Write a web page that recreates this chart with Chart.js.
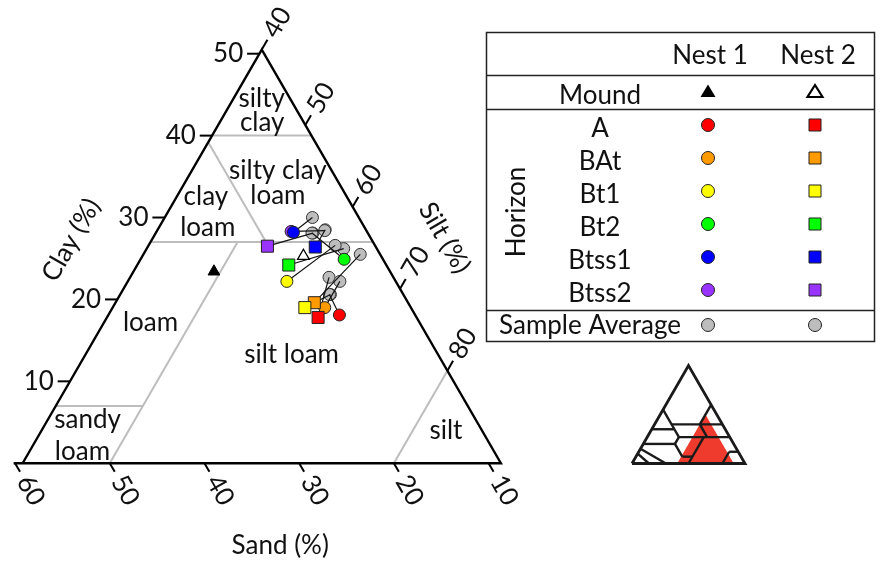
<!DOCTYPE html>
<html>
<head>
<meta charset="utf-8">
<title>Soil texture of mound and horizon samples</title>
<script src="https://cdn.jsdelivr.net/npm/chart.js@4.4.1/dist/chart.umd.min.js"></script>
<style>
  html, body { margin: 0; padding: 0; background: #fff; }
  #wrap { position: relative; width: 880px; height: 565px; overflow: hidden; }
  #main { position: absolute; left: 0; top: 0; }
  #inset { position: absolute; left: 620px; top: 355px; }
</style>
</head>
<body>
<div id="wrap">
  <canvas id="main" width="880" height="565"></canvas>
  <canvas id="inset" width="135" height="120"></canvas>
</div>
<script>
// ---------------------------------------------------------------
// Sample data: particle-size fractions in percent (sand + silt + clay = 100)
// ---------------------------------------------------------------
const horizons = ['A', 'BAt', 'Bt1', 'Bt2', 'Btss1', 'Btss2'];
const horizonColors = ['#ff0000', '#ff9a00', '#ffff00', '#00ff00', '#0000ff', '#9933ff'];

const nest1Sand = [16.7, 17.8, 20.2, 12.8, 16.5, 16.7];
const nest1Silt = [65.2, 63.2, 57.6, 62.3, 55.3, 55.0];
const nest1Clay = [18.1, 19.0, 22.2, 24.9, 28.2, 28.3];

const nest2Sand = [19.1, 18.6, 19.9, 19.0, 15.1, 20.1];
const nest2Silt = [63.1, 61.8, 61.1, 56.8, 58.5, 53.4];
const nest2Clay = [17.8, 19.6, 19.0, 24.2, 26.4, 26.5];

// sample averages that each horizon is linked to
const nest1AvgSand = [16.5, 14.6, 12.9, 14.6, 13.6, 13.1];
const nest1AvgSilt = [62.9, 63.2, 60.5, 57.3, 56.4, 58.5];
const nest1AvgClay = [20.6, 22.2, 26.6, 28.1, 30.0, 28.4];

const nest2AvgSand = [15.5, 10.8, 16.4, 12.2, 13.0, 14.5];
const nest2AvgSilt = [61.8, 63.7, 63.0, 61.6, 58.5, 57.4];
const nest2AvgClay = [22.7, 25.5, 20.6, 26.2, 28.5, 28.1];

// mound soil: [Nest 1, Nest 2]
const moundSand = [27.3, 16.9];
const moundSilt = [49.3, 57.8];
const moundClay = [23.4, 25.3];

// axis tick values
const clayTicks = [10, 20, 30, 40, 50];
const siltTicks = [40, 50, 60, 70, 80];
const sandTicks = [60, 50, 40, 30, 20, 10];

// plotted window of the texture triangle
const FRAME_SILT = 40.8;                        // left edge (minimum silt)
const FRAME_SAND = 8.7;                         // right edge (minimum sand)
const FRAME_CLAY = 100 - FRAME_SILT - FRAME_SAND; // apex
const BASE_START_SAND = 60.15;                  // base line runs out to the 60 % sand tick

// USDA class boundaries inside the window, as (silt %, clay %) end points
const textureBoundaries = [
  [[40.8, 40], [51.3, 40]],   // clay 40 %
  [[40.8, 27], [64.3, 27]],   // clay 27 %
  [[53.0, 27], [40.8, 39.2]], // sand 20 %
  [[50.0, 27], [50.0, 0]],    // silt 50 %
  [[40.8, 7], [50.0, 7]],     // clay 7 %
  [[80.0, 0], [80.0, 11.3]]   // silt 80 %
];

// class names, anchored at (silt %, clay %)
const classLabels = ['silty', 'clay', 'silty clay', 'loam', 'clay', 'loam', 'loam', 'silt loam', 'sandy', 'loam', 'silt'];
const classLabelSilt = [44.3, 45.8, 50.4, 51.9, 44.4, 46.5, 46.2, 63.1, 42.0, 44.0, 84.0];
const classLabelClay = [43.5, 40.6, 34.7, 31.7, 31.5, 27.7, 16.2, 12.2, 4.3, 0.4, 3.0];
const classLabelAlign = ['center', 'center', 'center', 'center', 'center', 'center', 'center', 'center', 'left', 'left', 'center'];

// full USDA triangle for the locator map, as (silt %, clay %) end points
const usdaFrame = [[0, 0], [100, 0], [0, 100], [0, 0]];
const usdaBoundaries = [
  [[15, 40], [60, 40]], [[40, 40], [40, 60]], [[0, 55], [20, 35]], [[0, 35], [20, 35]],
  [[20, 35], [28, 27]], [[28, 27], [73, 27]], [[53, 27], [40, 40]], [[0, 20], [28, 20]],
  [[28, 20], [28, 27]], [[28, 20], [41, 7]], [[41, 7], [50, 7]], [[50, 0], [50, 27]],
  [[80, 0], [80, 12]], [[80, 12], [88, 12]], [[30, 0], [0, 15]], [[15, 0], [0, 10]]
];
// window enlarged in the main plot: sand 10-60 %, silt >= 40 %
const zoomWindow = [[40, 0], [90, 0], [40, 50], [40, 0]];

// ---------------------------------------------------------------
const FONT = '26px Lato';
const SQRT3_2 = Math.sqrt(3) / 2;
// ternary (silt, clay) -> cartesian: x = silt + clay/2, y = clay * sqrt(3)/2
const toXY = (silt, clay) => ({ x: silt + clay / 2, y: clay * SQRT3_2 });

function lineSet(points, color, width, order) {
  return {
    type: 'scatter',
    data: points.map(([s, c]) => toXY(s, c)),
    showLine: true,
    borderColor: color,
    borderWidth: width,
    borderJoinStyle: 'miter',
    borderCapStyle: 'butt',
    pointRadius: 0,
    order
  };
}

function pointSet(silt, clay, style, radius, fill, edge, edgeWidth, order) {
  return {
    type: 'scatter',
    data: silt.map((s, i) => toXY(s, clay[i])),
    pointStyle: style,
    pointRadius: radius,
    backgroundColor: fill,
    borderColor: edge,
    borderWidth: edgeWidth,
    order
  };
}

function pixelOf(chart, silt, clay) {
  const p = toXY(silt, clay);
  return [chart.scales.x.getPixelForValue(p.x), chart.scales.y.getPixelForValue(p.y)];
}

function drawText(ctx, text, x, y, angleDeg, align, baseline) {
  ctx.save();
  ctx.translate(x, y);
  ctx.rotate(angleDeg * Math.PI / 180);
  ctx.textAlign = align || 'center';
  ctx.textBaseline = baseline || 'middle';
  ctx.fillText(text, 0, 0);
  ctx.restore();
}

// ---------------- labels, ticks text and axis titles ----------------
const ternaryText = {
  id: 'ternaryText',
  afterDatasetsDraw(chart) {
    const ctx = chart.ctx;
    ctx.save();
    ctx.fillStyle = '#111';
    ctx.font = FONT;

    classLabels.forEach((t, i) => {
      const [x, y] = pixelOf(chart, classLabelSilt[i], classLabelClay[i]);
      drawText(ctx, t, x, y, 0, classLabelAlign[i], 'alphabetic');
    });

    clayTicks.forEach(c => {
      const [x, y] = pixelOf(chart, FRAME_SILT - 3.3, c);
      drawText(ctx, String(c), x, y, 0);
    });
    siltTicks.forEach(s => {
      const clay = Math.min(100 - s - FRAME_SAND, FRAME_CLAY);
      const silt = 100 - FRAME_SAND - clay;
      const [x, y] = pixelOf(chart, silt, clay + 3.3);
      drawText(ctx, String(s), x, y, -60);
    });
    sandTicks.forEach(s => {
      const [x, y] = pixelOf(chart, 100 - s + 3.3, -3.3);
      drawText(ctx, String(s), x, y, 60);
    });

    let [x, y] = pixelOf(chart, 32.3, 27.25);
    drawText(ctx, 'Clay (%)', x, y, -60);
    [x, y] = pixelOf(chart, 71.6, 27.5);
    drawText(ctx, 'Silt (%)', x, y, 60);
    [x, y] = pixelOf(chart, 73.0, -10.0);
    drawText(ctx, 'Sand (%)', x, y, 0);
    ctx.restore();
  }
};

// ---------------- key table ----------------
function keyMarker(ctx, shape, x, y, fill) {
  ctx.save();
  ctx.lineWidth = 1;
  ctx.strokeStyle = '#222';
  ctx.fillStyle = fill;
  ctx.beginPath();
  if (shape === 'circle') {
    ctx.arc(x, y, 6.5, 0, Math.PI * 2);
    ctx.fill(); ctx.stroke();
  } else if (shape === 'rect') {
    ctx.rect(x - 6, y - 6, 12, 12);
    ctx.fill(); ctx.stroke();
  } else if (shape === 'tri') {
    ctx.moveTo(x, y - 7); ctx.lineTo(x + 7.5, y + 5.5); ctx.lineTo(x - 7.5, y + 5.5); ctx.closePath();
    ctx.fillStyle = '#000';
    ctx.fill();
  } else if (shape === 'triOpen') {
    ctx.moveTo(x, y - 6.5); ctx.lineTo(x + 7.5, y + 5.5); ctx.lineTo(x - 7.5, y + 5.5); ctx.closePath();
    ctx.fillStyle = '#fff'; ctx.strokeStyle = '#000'; ctx.lineWidth = 2.2; ctx.lineJoin = 'miter';
    ctx.fill(); ctx.stroke();
  }
  ctx.restore();
}

const keyTable = {
  id: 'keyTable',
  afterDraw(chart) {
    const ctx = chart.ctx;
    const L = 486.5, R = 874.5, T = 32.5, B = 341.5;
    const col1 = 708, col2 = 815, labelX = 600;
    ctx.save();
    ctx.strokeStyle = '#222';
    ctx.lineWidth = 1.5;
    ctx.strokeRect(L, T, R - L, B - T);
    [75.5, 109.5, 310.5].forEach(yy => {
      ctx.beginPath(); ctx.moveTo(L, yy); ctx.lineTo(R, yy); ctx.stroke();
    });
    ctx.fillStyle = '#111';
    ctx.font = FONT;
    drawText(ctx, 'Nest 1', 710, 63.5, 0, 'center', 'alphabetic');
    drawText(ctx, 'Nest 2', 818, 63.5, 0, 'center', 'alphabetic');
    drawText(ctx, 'Mound', labelX, 103.5, 0, 'center', 'alphabetic');
    keyMarker(ctx, 'tri', col1, 91.5);
    keyMarker(ctx, 'triOpen', col2, 91.5);
    horizons.forEach((h, i) => {
      const base = 136.5 + i * 33;
      ctx.fillStyle = '#111';
      drawText(ctx, h, labelX, base, 0, 'center', 'alphabetic');
      keyMarker(ctx, 'circle', col1, base - 11.5, horizonColors[i]);
      keyMarker(ctx, 'rect', col2, base - 11.5, horizonColors[i]);
    });
    ctx.fillStyle = '#111';
    drawText(ctx, 'Horizon', 517, 212, -90);
    drawText(ctx, 'Sample Average', 590, 334, 0, 'center', 'alphabetic');
    keyMarker(ctx, 'circle', col1, 325, '#bdbdbd');
    keyMarker(ctx, 'circle', col2, 325, '#bdbdbd');
    ctx.restore();
  }
};

function build() {
  const sets = [];

  // class boundaries (grey) under everything
  textureBoundaries.forEach(seg => sets.push(lineSet(seg, '#bdbdbd', 2, 30)));

  // frame: base (extended to the 60 % sand tick), right edge, left edge
  sets.push(lineSet([
    [100 - BASE_START_SAND, 0],
    [100 - FRAME_SAND, 0],
    [FRAME_SILT, FRAME_CLAY],
    [FRAME_SILT, 0]
  ], '#000', 2.4, 20));

  // tick marks
  clayTicks.forEach(c => sets.push(lineSet([[FRAME_SILT, c], [FRAME_SILT - 1.3, c]], '#000', 2, 20)));
  siltTicks.forEach(s => {
    const clay = Math.min(100 - s - FRAME_SAND, FRAME_CLAY);
    const silt = 100 - FRAME_SAND - clay;
    sets.push(lineSet([[silt, clay], [silt, clay + 1.2]], '#000', 2, 20));
  });
  sandTicks.forEach(s => sets.push(lineSet([[100 - s, 0], [100 - s + 1.05, -1.05]], '#000', 2, 20)));

  // sample averages
  sets.push(pointSet(nest1AvgSilt, nest1AvgClay, 'circle', 6, '#bdbdbd', '#333', 1, 12));
  sets.push(pointSet(nest2AvgSilt, nest2AvgClay, 'circle', 6, '#bdbdbd', '#333', 1, 12));

  // links from each horizon to its average
  horizons.forEach((h, i) => {
    sets.push(lineSet([[nest1Silt[i], nest1Clay[i]], [nest1AvgSilt[i], nest1AvgClay[i]]], '#111', 1.2, 10));
    sets.push(lineSet([[nest2Silt[i], nest2Clay[i]], [nest2AvgSilt[i], nest2AvgClay[i]]], '#111', 1.2, 10));
  });

  // horizons: Nest 1 circles, Nest 2 squares
  horizons.forEach((h, i) => {
    sets.push(pointSet([nest1Silt[i]], [nest1Clay[i]], 'circle', 6, horizonColors[i], '#222', 1, 5 + i * 0.1));
    sets.push(pointSet([nest2Silt[i]], [nest2Clay[i]], 'rect', 8.5, horizonColors[i], '#222', 1, 4 - i * 0.1));
  });

  // mound samples
  sets.push(pointSet([moundSilt[0]], [moundClay[0]], 'triangle', 6.8, '#000', '#000', 1, 1));
  sets.push(pointSet([moundSilt[1]], [moundClay[1]], 'triangle', 6.8, '#fff', '#000', 1.3, 1));

  new Chart(document.getElementById('main'), {
    type: 'scatter',
    data: { datasets: sets },
    options: {
      responsive: false,
      animation: false,
      events: [],
      layout: { padding: 0, autoPadding: false },
      plugins: { legend: { display: false }, tooltip: { enabled: false }, title: { display: false } },
      scales: {
        x: { type: 'linear', min: 38.41, max: 131.33, display: false },
        y: { type: 'linear', min: -10.76, max: 48.98, display: false }
      }
    },
    plugins: [ternaryText, keyTable]
  });

  // locator map: full texture triangle with the enlarged window in red
  const insetSets = [];
  insetSets.push(Object.assign(lineSet(zoomWindow, 'rgba(0,0,0,0)', 0, 10), {
    fill: 'shape', backgroundColor: '#ee3b2e'
  }));
  usdaBoundaries.forEach(seg => insetSets.push(lineSet(seg, '#1a1a1a', 2.4, 5)));
  insetSets.push(lineSet(usdaFrame, '#1a1a1a', 2.8, 4));

  new Chart(document.getElementById('inset'), {
    type: 'scatter',
    data: { datasets: insetSets },
    options: {
      responsive: false,
      animation: false,
      events: [],
      layout: { padding: 0, autoPadding: false },
      plugins: { legend: { display: false }, tooltip: { enabled: false } },
      scales: {
        x: { type: 'linear', min: -10.62, max: 108.85, display: false },
        y: { type: 'linear', min: -10.18, max: 96.02, display: false }
      }
    }
  });
}

document.fonts.load(FONT).then(build, build);
</script>
</body>
</html>
